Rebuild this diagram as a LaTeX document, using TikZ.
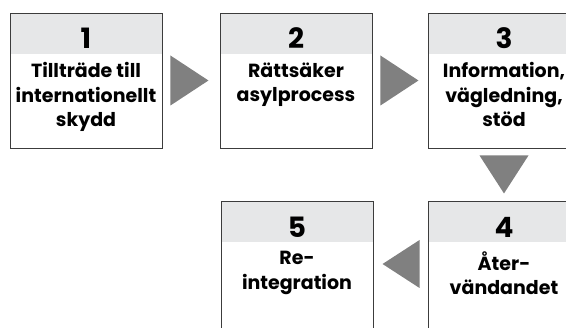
\documentclass[tikz,border=0pt]{standalone}
\usepackage{fontspec}
\setmainfont{Poppins}
\usetikzlibrary{calc}
\definecolor{headgray}{HTML}{E6E7E8}
\definecolor{arrgray}{HTML}{808080}
\definecolor{boxline}{HTML}{3C3C3C}

\begin{document}
\begin{tikzpicture}[x=1pt, y=-1pt,
    box/.style={draw=boxline, line width=0.9pt, minimum width=152pt, minimum height=135pt, inner sep=0pt,
      path picture={\fill[headgray] (path picture bounding box.north west) rectangle ([yshift=-41pt]path picture bounding box.north east);}},
    num/.style={font=\bfseries\fontsize{28}{28}\selectfont, anchor=base, inner sep=0pt},
    lbl/.style={font=\bfseries\fontsize{19}{24.5}\selectfont, align=center, anchor=north, inner sep=0pt,
      execute at begin node=\rule{0pt}{20pt}}]

  \useasboundingbox (0,0) rectangle (566,328);

  % Define boxes with their numbers
  \foreach \i/\x/\y in {1/86/80.5, 2/296/80.5, 3/504/80.5, 4/504/269, 5/297/269} {
    \node[box] (b\i) at (\x,\y) {};
    \node[num] (n\i) at ([yshift=-36pt]b\i.north) {\i};
  }

  % Label boxes
  \node[lbl] (t1) at ([yshift=-50pt]b1.north) {Tillträde till\\internationellt\\skydd};
  \node[lbl] (t2) at ([yshift=-50pt]b2.north) {Rättsäker\\asylprocess};
  \node[lbl] (t3) at ([yshift=-50pt]b3.north) {Information,\\vägledning,\\stöd};
  \node[lbl] (t4) at ([yshift=-50pt]b4.north) {Åter-\\vändandet};
  \node[lbl] (t5) at ([yshift=-50pt]b5.north) {Re-\\integration};

  % Draw arrows between the steps
  \fill[arrgray] ([xshift=8pt,yshift=25pt]b1.east) -- ([xshift=46pt]b1.east) -- ([xshift=8pt,yshift=-25pt]b1.east) -- cycle;
  \fill[arrgray] ([xshift=8pt,yshift=25pt]b2.east) -- ([xshift=46pt]b2.east) -- ([xshift=8pt,yshift=-25pt]b2.east) -- cycle;
  \fill[arrgray] ([xshift=-24.5pt,yshift=-7pt]b3.south) -- ([yshift=-45pt]b3.south) -- ([xshift=24.5pt,yshift=-7pt]b3.south) -- cycle;
  \fill[arrgray] ([xshift=-8pt,yshift=29pt]b4.west) -- ([xshift=-45pt,yshift=5pt]b4.west) -- ([xshift=-8pt,yshift=-19pt]b4.west) -- cycle;
\end{tikzpicture}
\end{document}
